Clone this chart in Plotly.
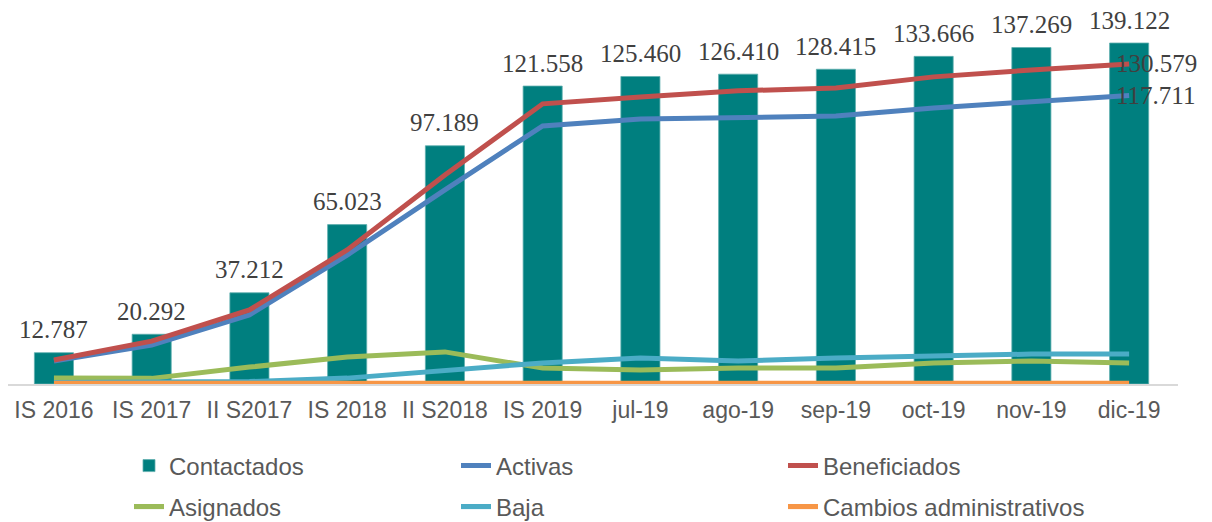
import plotly.graph_objects as go

categories = ["IS 2016", "IS 2017", "II S2017", "IS 2018", "II S2018", "IS 2019",
              "jul-19", "ago-19", "sep-19", "oct-19", "nov-19", "dic-19"]
contactados = [12787, 20292, 37212, 65023, 97189, 121558, 125460, 126410, 128415, 133666, 137269, 139122]
activas = [9400, 15900, 28200, 52600, 79200, 105300, 108100, 108900, 109300, 112600, 115100, 117711]
beneficiados = [9800, 17500, 30200, 54700, 85300, 114300, 117100, 119600, 120800, 125300, 128100, 130579]
asignados = [2400, 2300, 6900, 11000, 13100, 6500, 5700, 6500, 6500, 8600, 9400, 8600]
baja = [600, 700, 1000, 2400, 5700, 8600, 10600, 9400, 10600, 11400, 12200, 12200]
cambios = [300, 300, 300, 300, 300, 300, 300, 300, 300, 300, 300, 300]

def fmt(v):
    return f"{v:,}".replace(",", ".")

fig = go.Figure()
fig.add_trace(go.Bar(x=categories, y=contactados, name="Contactados",
                     marker=dict(color="#007F7F", line=dict(color="#5FAFAF", width=0.8)),
                     legend="legend"))
line_specs = [
    ("Activas", activas, "#4F81BD", "legend"),
    ("Beneficiados", beneficiados, "#C0504D", "legend"),
    ("Asignados", asignados, "#9BBB59", "legend2"),
    ("Baja", baja, "#4BACC6", "legend2"),
    ("Cambios administrativos", cambios, "#F79646", "legend2"),
]
for name, vals, col, lg in line_specs:
    fig.add_trace(go.Scatter(x=categories, y=vals, name=name, mode="lines",
                             line=dict(color=col, width=5), legend=lg))

label_font = dict(family="Liberation Serif", size=25, color="#404040")
for c, v in zip(categories, contactados):
    fig.add_annotation(x=c, y=v, text=fmt(v), showarrow=False, yanchor="middle",
                       yshift=23, borderpad=0, font=label_font)
for vals in (beneficiados, activas):
    fig.add_annotation(x=categories[-1], y=vals[-1], text=fmt(vals[-1]), showarrow=False,
                       xanchor="left", yanchor="middle", xshift=-14, borderpad=0,
                       font=label_font)

# figure sits in the page with an 8px body margin
W, H = 1204, 514
ymax = contactados[-1] * 376 / 341
legend_font = dict(family="Liberation Sans", size=24, color="#595959")
fig.update_layout(
    width=W, height=H,
    margin=dict(l=0, r=34, t=0, b=138, autoexpand=False),
    plot_bgcolor="white", paper_bgcolor="white",
    bargap=0.6,
    xaxis=dict(showline=True, linecolor="#D9D9D9", linewidth=1.5,
               ticks="outside", ticklen=5, tickcolor="rgba(0,0,0,0)",
               tickfont=dict(family="Liberation Sans", size=23, color="#595959"),
               showgrid=False, range=[-0.47, 11.5], automargin=False),
    yaxis=dict(range=[0, ymax], visible=False, showgrid=False, automargin=False),
    showlegend=True,
    legend=dict(orientation="h", xref="container", yref="container", x=(129 - 8) / W,
                y=1 - (466 - 8) / H,
                xanchor="left", yanchor="middle", entrywidth=282, entrywidthmode="pixels",
                font=legend_font, bgcolor="rgba(0,0,0,0)"),
    legend2=dict(orientation="h", xref="container", yref="container", x=(129 - 8) / W,
                 y=1 - (507 - 8) / H,
                 xanchor="left", yanchor="middle", entrywidth=282, entrywidthmode="pixels",
                 font=legend_font, bgcolor="rgba(0,0,0,0)"),
)
fig.write_html("out.html")
